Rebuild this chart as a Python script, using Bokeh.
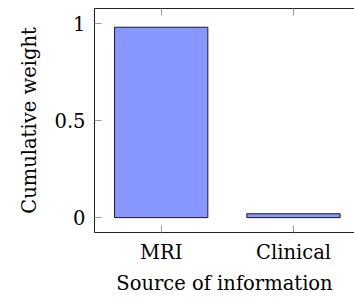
from bokeh.plotting import figure
from bokeh.models import Range1d, FixedTicker, LinearAxis, ColumnDataSource
from bokeh.embed import file_html
from bokeh.resources import INLINE

categories = ["MRI", "Clinical"]
weights = [0.98, 0.02]
y_ticks = [0, 0.5, 1]
y_tick_labels = {0: "0", 0.5: "0.5", 1: "1"}
x_title = "Source of information"
y_title = "Cumulative weight"

FONT = "DejaVu Serif"
FS = "19.5px"

xs = list(range(len(categories)))
src = ColumnDataSource(dict(x=xs, top=weights))

p = figure(width=354, height=297, output_backend="svg", toolbar_location=None,
           x_range=Range1d(-0.504, 1.461), y_range=Range1d(-0.0765, 1.0765),
           min_border_left=94, min_border_bottom=63, min_border_top=8, min_border_right=0)
p.outline_line_color = None
p.grid.visible = False

p.vbar(x="x", top="top", bottom=0, width=0.705, source=src,
       fill_color="#8797FF", line_color="#1a1a1a", line_width=1)

xa = p.xaxis[0]
xa.ticker = FixedTicker(ticks=xs)
xa.major_label_overrides = {i: c for i, c in zip(xs, categories)}
ya = p.yaxis[0]
ya.ticker = FixedTicker(ticks=y_ticks)
ya.major_label_overrides = y_tick_labels

for ax in (xa, ya):
    ax.minor_tick_line_color = None
    ax.major_tick_in = 7
    ax.major_tick_out = 0
    ax.major_tick_line_color = "#999999"
    ax.axis_line_color = "#222222"
    ax.major_label_text_font = FONT
    ax.major_label_text_font_size = FS
    ax.major_label_text_color = "black"
    ax.major_label_text_line_height = 1.0
    ax.axis_label_text_font = FONT
    ax.axis_label_text_font_size = FS
    ax.axis_label_text_font_style = "normal"
    ax.axis_label_text_color = "black"
    ax.axis_label_text_line_height = 1.0

xa.axis_label = x_title
xa.major_label_standoff = 8
xa.axis_label_standoff = 5
ya.axis_label = y_title
ya.major_label_standoff = 9
ya.axis_label_standoff = 10
ya.major_label_orientation = "horizontal"

top = LinearAxis(ticker=FixedTicker(ticks=xs), major_label_overrides={0: "", 1: ""},
                 major_label_text_font_size="1px",
                 major_tick_in=7, major_tick_out=0, major_label_standoff=0,
                 minor_tick_line_color=None, major_tick_line_color="#999999",
                 axis_line_color="#222222")
p.add_layout(top, "above")

open("out.html", "w").write(file_html(p, INLINE))
